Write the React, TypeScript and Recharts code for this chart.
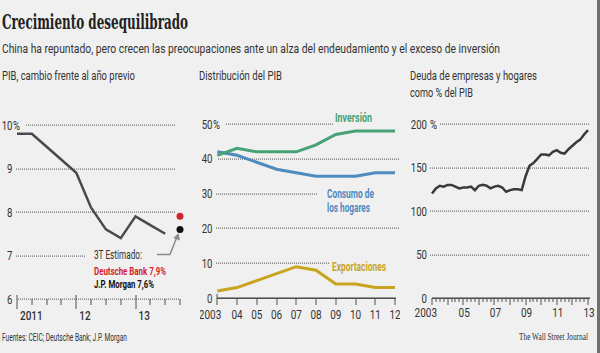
import React from 'react';
import { LineChart, Line, XAxis, YAxis, ReferenceDot } from 'recharts';

// PIB trimestral (% interanual)
const gdpQuarter = [0, 1, 2, 3, 4, 5, 6, 7, 8, 9, 10];
const gdpGrowth = [9.8, 9.8, 9.5, 9.2, 8.9, 8.1, 7.6, 7.4, 7.9, 7.7, 7.5];
const gdpTicks = [0, 1, 2, 3, 4, 5, 6, 7, 8, 9, 10, 11];
const gdpYearLabels: Record<number, string> = { 0: '2011', 4: '12', 8: '13' };
const gdpYTicks = [6, 7, 8, 9, 10];
const forecastQuarter = 11;
const forecasts = [
  { name: 'Deutsche Bank 7,9%', value: 7.9, color: '#d3242b' },
  { name: 'J.P. Morgan 7,6%', value: 7.6, color: '#111111' },
];

// Distribución del PIB (%)
const shareYears = [2003, 2004, 2005, 2006, 2007, 2008, 2009, 2010, 2011, 2012];
const shareYearLabels = ['2003', '04', '05', '06', '07', '08', '09', '10', '11', '12'];
const investment = [41, 43, 42, 42, 42, 44, 47, 48, 48, 48];
const consumption = [42, 41, 39, 37, 36, 35, 35, 35, 36, 36];
const exportsShare = [2, 3, 5, 7, 9, 8, 4, 4, 3, 3];
const shareYTicks = [0, 10, 20, 30, 40, 50];

// Deuda de empresas y hogares (% del PIB), trimestral 2003-2013
const debtRatio = [
  120, 126, 129, 128, 130, 130, 128, 126, 127, 127,
  128, 124, 129, 130, 129, 126, 128, 129, 127, 122,
  124, 125, 125, 124, 140, 152, 155, 160, 165, 165,
  164, 168, 170, 167, 166, 171, 175, 179, 182, 188, 193,
];
const debtQuarter = debtRatio.map((_, q) => q);
const debtYearLabels: Record<number, string> = { 0: '2003', 8: '05', 16: '07', 24: '09', 32: '11', 40: '13' };
const debtYTicks = [0, 50, 100, 150, 200];

const SANS = 'Roboto, "Liberation Sans", sans-serif';
const TXT = '#333';
const H = 353;
const XH = 30; // alto reservado para el eje X

// geometría de cada panel (coordenadas de página)
type Grid = Record<number, [number, number, boolean?]>;
type Panel = { left: number; width: number; x0: number; x1: number; top: number; bottom: number; ylo: number; yhi: number; xlo: number; xhi: number; grid: Grid };
const P1: Panel = { left: 0, width: 200, x0: 17, x1: 180, top: 125, bottom: 299, ylo: 6, yhi: 10, xlo: 0, xhi: 11,
  grid: { 10: [25, 175], 9: [15, 175], 8: [15, 175], 7: [15, 85], 6: [17, 180] } };
const P2: Panel = { left: 200, width: 200, x0: 217.3, x1: 395, top: 124, bottom: 298, ylo: 0, yhi: 50, xlo: 2003, xhi: 2012,
  grid: { 50: [225, 333], 40: [217, 400], 30: [215, 318], 20: [215, 400], 10: [215, 330], 0: [217, 396, true] } };
const P3: Panel = { left: 400, width: 200, x0: 432, x1: 588, top: 124, bottom: 298, ylo: 0, yhi: 200, xlo: 0, xhi: 40,
  grid: { 200: [439, 589], 150: [430, 589], 100: [430, 589], 50: [430, 589], 0: [432, 590, true] } };

const px = (p: Panel, v: number) => p.x0 + ((v - p.xlo) / (p.xhi - p.xlo)) * (p.x1 - p.x0);
const py = (p: Panel, v: number) => p.top + ((p.yhi - v) / (p.yhi - p.ylo)) * (p.bottom - p.top);
const margin = (p: Panel, yAxisW: number) => ({
  top: p.top, bottom: H - p.bottom - XH, left: p.x0 - p.left - yAxisW, right: p.left + p.width - p.x1,
});

type TxtProps = {
  x: number; y: number; children: React.ReactNode; anchor?: 'start' | 'middle' | 'end';
  size?: number; weight?: number | string; fill?: string; width?: number; family?: string; sx?: number;
};

const Txt = ({ x, y, children, anchor = 'start', size = 12, weight = 400, fill = TXT, width, family = SANS, sx = 0.8 }: TxtProps) =>
  width ? (
    <text x={x} y={y} textAnchor={anchor} fontSize={size} fontWeight={weight} fill={fill} fontFamily={family}
      textLength={width} lengthAdjust="spacingAndGlyphs">{children}</text>
  ) : (
    <g transform={`translate(${x},${y}) scale(${sx},1)`}>
      <text x={0} y={0} textAnchor={anchor} fontSize={size} fontWeight={weight} fill={fill} fontFamily={family}>{children}</text>
    </g>
  );

const yTick = (numRight: number, top: number, pct: string) => (p: any) => {
  const v = p.payload.value;
  return (
    <g>
      <Txt x={numRight} y={p.y + 4.5} anchor="end">{String(v)}</Txt>
      {v === top && <Txt x={numRight + 0.5} y={p.y + 4.5}>{pct}</Txt>}
    </g>
  );
};

// cuadrícula punteada como rectángulos rellenos con un patrón de puntos
const GridLines = ({ p, ticks }: { p: Panel; ticks: number[] }) => (
  <g>
    {ticks.map((v) => {
      const g = p.grid[v];
      if (!g) return null;
      const y = Math.round(py(p, v));
      return g[2]
        ? <rect key={v} x={g[0]} y={y - 0.5} width={g[1] - g[0]} height={1.4} fill="#3c3c3c" />
        : <rect key={v} x={g[0]} y={y - 0.5} width={g[1] - g[0]} height={1.2} fill="url(#gridDots)" />;
    })}
  </g>
);

const AxisMarks = () => (
  <g fill="#505050">
    {gdpTicks.map((i) => {
      const x = Math.round(px(P1, i));
      const major = gdpYearLabels[i] !== undefined;
      return <rect key={'a' + i} x={x - 0.5} width={1} y={major ? 295 : 299} height={major ? 14 : 6} />;
    })}
    {shareYears.map((yr, i) => {
      const x = Math.round(px(P2, yr));
      return <rect key={'b' + yr} x={x - 0.5} width={1} y={i === 0 ? 294 : 298} height={i === 0 ? 11 : 7} />;
    })}
    {debtQuarter.map((q) => {
      const x = Math.round(px(P3, q));
      return <rect key={'c' + q} x={x - 0.5} width={1} y={298} height={q % 4 === 0 ? 7 : 4} />;
    })}
  </g>
);

const GdpChart = () => {
  const data = gdpQuarter.map((q, i) => ({ q, v: gdpGrowth[i] }));
  const tick = (p: any) => {
    const i = p.payload.value;
    return gdpYearLabels[i] !== undefined
      ? <Txt x={p.x + 3} y={320} size={12.5} weight={500}>{gdpYearLabels[i]}</Txt>
      : <g />;
  };
  return (
    <div style={{ position: 'absolute', left: P1.left, top: 0 }}>
      <LineChart width={P1.width} height={H} data={data} margin={margin(P1, 17)}>
        <XAxis dataKey="q" type="number" domain={[0, 11]} ticks={gdpTicks} interval={0} height={XH}
          axisLine={false} tickLine={false} tick={tick} />
        <YAxis type="number" domain={[6, 10]} ticks={gdpYTicks} width={17} axisLine={false} tickLine={false}
          tick={yTick(12.5, 10, '%')} />
        <Line dataKey="v" stroke="#4a4a4a" strokeWidth={2.5} dot={false} isAnimationActive={false} />
        {forecasts.map((f) => (
          <ReferenceDot key={f.name} x={forecastQuarter} y={f.value} r={3.5} fill={f.color} stroke="none" ifOverflow="visible" />
        ))}
      </LineChart>
    </div>
  );
};

const ShareChart = () => {
  const data = shareYears.map((y, i) => ({ y, inv: investment[i], con: consumption[i], exp: exportsShare[i] }));
  const tick = (p: any) => {
    const i = shareYears.indexOf(p.payload.value);
    return <Txt x={i === 0 ? p.x + 4 : p.x} y={319} anchor={i === 0 ? 'end' : 'middle'} size={12.5}>{shareYearLabels[i]}</Txt>;
  };
  return (
    <div style={{ position: 'absolute', left: P2.left, top: 0 }}>
      <LineChart width={P2.width} height={H} data={data} margin={margin(P2, 17.3)}>
        <XAxis dataKey="y" type="number" domain={[2003, 2012]} ticks={shareYears} interval={0} height={XH}
          axisLine={false} tickLine={false} tick={tick} />
        <YAxis type="number" domain={[0, 50]} ticks={shareYTicks} width={17.3} axisLine={false} tickLine={false}
          tick={yTick(12.5, 50, '%')} />
        <Line dataKey="con" stroke="#4d8bc0" strokeWidth={3} dot={false} isAnimationActive={false} />
        <Line dataKey="inv" stroke="#47a276" strokeWidth={3} dot={false} isAnimationActive={false} />
        <Line dataKey="exp" stroke="#c9a41f" strokeWidth={3} dot={false} isAnimationActive={false} />
      </LineChart>
    </div>
  );
};

const DebtChart = () => {
  const data = debtRatio.map((v, q) => ({ q, v }));
  const tick = (p: any) => {
    const i = p.payload.value;
    return debtYearLabels[i] !== undefined
      ? <Txt x={i === 0 ? p.x + 5 : p.x + 1} y={317} anchor={i === 0 ? 'end' : 'middle'} size={12.5}>{debtYearLabels[i]}</Txt>
      : <g />;
  };
  return (
    <div style={{ position: 'absolute', left: P3.left, top: 0 }}>
      <LineChart width={P3.width} height={H} data={data} margin={margin(P3, 32)}>
        <XAxis dataKey="q" type="number" domain={[0, 40]} ticks={debtQuarter} interval={0} height={XH}
          axisLine={false} tickLine={false} tick={tick} />
        <YAxis type="number" domain={[0, 200]} ticks={debtYTicks} width={32} axisLine={false} tickLine={false}
          tick={yTick(27, 200, '\u00a0%')} />
        <Line dataKey="v" stroke="#3a3a3a" strokeWidth={2.5} dot={false} isAnimationActive={false} />
      </LineChart>
    </div>
  );
};

export default function App() {
  return (
    <div style={{ position: 'absolute', left: 0, top: 0, width: 600, height: H, background: '#f0f0f0',
      borderRight: '3px solid #6f6f6f', boxSizing: 'border-box', overflow: 'hidden' }}>
      <svg width={600} height={H} style={{ position: 'absolute', left: 0, top: 0 }}>
        <defs>
          <pattern id="gridDots" x={0} y={0} width={2} height={4} patternUnits="userSpaceOnUse">
            <rect x={0} y={0} width={1} height={4} fill="#6a6a6a" />
          </pattern>
        </defs>
        <GridLines p={P1} ticks={gdpYTicks} />
        <GridLines p={P2} ticks={shareYTicks} />
        <GridLines p={P3} ticks={debtYTicks} />
        <AxisMarks />
      </svg>
      <GdpChart />
      <ShareChart />
      <DebtChart />
      <svg width={600} height={H} style={{ position: 'absolute', left: 0, top: 0, pointerEvents: 'none' }}>
        <Txt x={2} y={28.5} size={21} weight={700} fill="#222" width={186} family='"DejaVu Serif", serif'>Crecimiento desequilibrado</Txt>
        <Txt x={2} y={53} size={13.5} width={498}>China ha repuntado, pero crecen las preocupaciones ante un alza del endeudamiento y el exceso de inversión</Txt>
        <Txt x={2} y={79.5} size={13} width={133}>PIB, cambio frente al año previo</Txt>
        <Txt x={199} y={79.5} size={13} width={83}>Distribución del PIB</Txt>
        <Txt x={410} y={79.5} size={13} width={127}>Deuda de empresas y hogares</Txt>
        <Txt x={410} y={97} size={13} width={63}>como % del PIB</Txt>

        {/* flecha de la estimación */}
        <path d="M157,254.5 H170 L176.5,238" fill="none" stroke="#8a8a8a" strokeWidth={1.5} />
        <polygon points="178.6,233.2 180,240.6 173.3,237.9" fill="#8a8a8a" />
        <Txt x={94} y={259} size={12} width={48}>3T Estimado:</Txt>
        <Txt x={94} y={275} size={11.5} weight={700} fill={forecasts[0].color} width={72}>{forecasts[0].name}</Txt>
        <Txt x={94} y={288} size={11.5} weight={700} fill={forecasts[1].color} width={60}>{forecasts[1].name}</Txt>

        <Txt x={335} y={121.5} size={12.5} weight={700} fill="#47a276" width={37}>Inversión</Txt>
        <Txt x={327} y={197.5} size={12.5} weight={700} fill="#4d8bc0" width={47}>Consumo de</Txt>
        <Txt x={327} y={211.5} size={12.5} weight={700} fill="#4d8bc0" width={43}>los hogares</Txt>
        <Txt x={332} y={271} size={12.5} weight={700} fill="#c9a41f" width={54}>Exportaciones</Txt>

        <Txt x={2} y={341} size={11} width={125}>Fuentes: CEIC; Deutsche Bank; J.P. Morgan</Txt>
        <Txt x={588} y={340} size={11} anchor="end" width={69} family='"Liberation Serif", serif'>The Wall Street Journal</Txt>
      </svg>
    </div>
  );
}
